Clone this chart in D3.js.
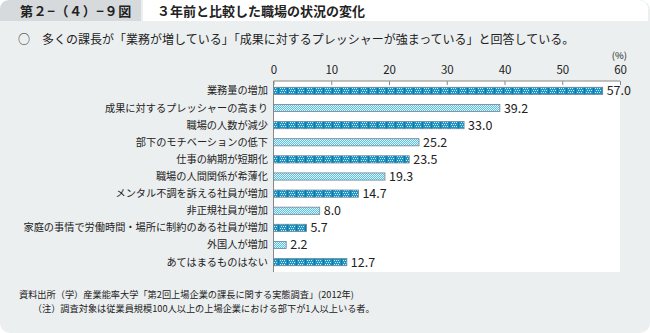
<!DOCTYPE html>
<html>
<head>
<meta charset="utf-8">
<script src="https://cdn.jsdelivr.net/npm/d3@7"></script>
<style>
  body { margin: 0; background: #fff; }
  svg { display: block; }
  text { font-family: "Noto Sans CJK JP", "Noto Sans", sans-serif; fill: #222; }
</style>
</head>
<body>
<svg id="chart" width="650" height="333"></svg>
<script>
var categories = [
	"業務量の増加",
	"成果に対するプレッシャーの高まり",
	"職場の人数が減少",
	"部下のモチベーションの低下",
	"仕事の納期が短期化",
	"職場の人間関係が希薄化",
	"メンタル不調を訴える社員が増加",
	"非正規社員が増加",
	"家庭の事情で労働時間・場所に制約のある社員が増加",
	"外国人が増加",
	"あてはまるものはない"
];
var values = [57.0, 39.2, 33.0, 25.2, 23.5, 19.3, 14.7, 8.0, 5.7, 2.2, 12.7];
var ticks = [0, 10, 20, 30, 40, 50, 60];

var figNo = "第２−（４）−９図";
var title = "３年前と比較した職場の状況の変化";
var lead = "○　多くの課長が「業務が増している」「成果に対するプレッシャーが強まっている」と回答している。";
var notes = [
	"資料出所（学）産業能率大学「第2回上場企業の課長に関する実態調査」(2012年)",
	"　　（注）調査対象は従業員規模100人以上の上場企業における部下が1人以上いる者。"
];

var svg = d3.select("#chart");

// background panel and header
svg.append("rect").attr("x", 0).attr("y", 0).attr("width", 650).attr("height", 333)
	.attr("rx", 10).attr("fill", "#eceff0");
svg.append("path").attr("d", "M0,21 L0,10 Q0,0 10,0 L141,0 L141,21 Z").attr("fill", "#d6dadc");
svg.append("path").attr("d", "M143,0 L638,0 Q648,0 648,10 L648,21 L143,21 Z").attr("fill", "#fff");
svg.append("text").attr("x", 20).attr("y", 15.5).attr("font-size", 13).attr("font-weight", "bold")
	.attr("letter-spacing", 0.6).attr("fill", "#333").text(figNo);
svg.append("text").attr("x", 157).attr("y", 15.5).attr("font-size", 13).attr("font-weight", "bold")
	.attr("fill", "#333").text(title);
svg.append("text").attr("x", 18).attr("y", 44).attr("font-size", 12).attr("fill", "#333").text(lead);

// bar fill patterns
var defs = svg.append("defs");
var pA = defs.append("pattern").attr("id", "patA").attr("patternUnits", "userSpaceOnUse")
	.attr("width", 9).attr("height", 4);
pA.append("rect").attr("width", 9).attr("height", 4).attr("fill", "#1f93c4");
[[1, 0], [3, 0], [5, 0], [2, 2], [4, 2], [6, 2]].forEach(function(p) {
	pA.append("rect").attr("x", p[0]).attr("y", p[1]).attr("width", 1).attr("height", 1).attr("fill", "#c9eefa");
});
pA.append("rect").attr("x", 8).attr("y", 0).attr("width", 1).attr("height", 4).attr("fill", "#0f7aa8");

var pB = defs.append("pattern").attr("id", "patB").attr("patternUnits", "userSpaceOnUse")
	.attr("width", 2).attr("height", 2);
pB.append("rect").attr("width", 2).attr("height", 2).attr("fill", "#5cc0e4");
pB.append("rect").attr("x", 0).attr("y", 0).attr("width", 1).attr("height", 1).attr("fill", "#dff5fc");
pB.append("rect").attr("x", 1).attr("y", 1).attr("width", 1).attr("height", 1).attr("fill", "#dff5fc");

var margin = { left: 273.5, top: 81, right: 620, bottom: 272 };
var x = d3.scaleLinear().domain([0, 60]).range([margin.left, margin.right]);
var y = d3.scaleBand().domain(categories).range([margin.top + 2, margin.bottom - 2]).paddingInner(0.58).paddingOuter(0.25);

// plot area
svg.append("rect").attr("x", margin.left).attr("y", margin.top)
	.attr("width", margin.right - margin.left).attr("height", margin.bottom - margin.top).attr("fill", "#fff");

// top axis
var axis = d3.axisTop(x).tickValues(ticks).tickSize(-4).tickPadding(7).tickFormat(d3.format("d"));
var ax = svg.append("g").attr("transform", "translate(0," + margin.top + ")").call(axis);
ax.select(".domain").attr("stroke", "#888").attr("d", "M" + margin.left + ",0H" + margin.right);
ax.selectAll(".tick line").attr("stroke", "#888");
ax.selectAll(".tick text").attr("font-family", "Liberation Sans, Arial, sans-serif")
	.attr("font-size", 11.5).attr("fill", "#222");
svg.append("line").attr("x1", margin.left).attr("x2", margin.left)
	.attr("y1", margin.top).attr("y2", margin.bottom).attr("stroke", "#888");
svg.append("text").attr("x", 627).attr("y", 59).attr("text-anchor", "end")
	.attr("font-family", "Liberation Sans, Arial, sans-serif").attr("font-size", 9.5).text("(%)");

// bars
svg.selectAll("rect.bar").data(values).enter().append("rect")
	.attr("class", "bar")
	.attr("x", margin.left)
	.attr("y", function(d, i) { return y(categories[i]); })
	.attr("width", function(d) { return x(d) - x(0); })
	.attr("height", y.bandwidth())
	.attr("fill", function(d, i) { return i % 2 == 0 ? "url(#patA)" : "url(#patB)"; })
	.attr("stroke", "#6f8590").attr("stroke-width", 0.8);

svg.selectAll("text.value").data(values).enter().append("text")
	.attr("class", "value")
	.attr("x", function(d) { return x(d) + 4; })
	.attr("y", function(d, i) { return y(categories[i]) + y.bandwidth() / 2 + 4.5; })
	.attr("font-family", "Liberation Sans, Arial, sans-serif")
	.attr("font-size", 12.5)
	.text(function(d) { return d.toFixed(1); });

svg.selectAll("text.label").data(categories).enter().append("text")
	.attr("class", "label")
	.attr("x", 268)
	.attr("y", function(d) { return y(d) + y.bandwidth() / 2 + 3.5; })
	.attr("text-anchor", "end")
	.attr("font-size", 10.2)
	.text(function(d) { return d; });

// source notes
svg.selectAll("text.note").data(notes).enter().append("text")
	.attr("class", "note")
	.attr("x", 19)
	.attr("y", function(d, i) { return 298 + i * 14; })
	.attr("font-size", 9.2)
	.text(function(d) { return d; });
</script>
</body>
</html>
